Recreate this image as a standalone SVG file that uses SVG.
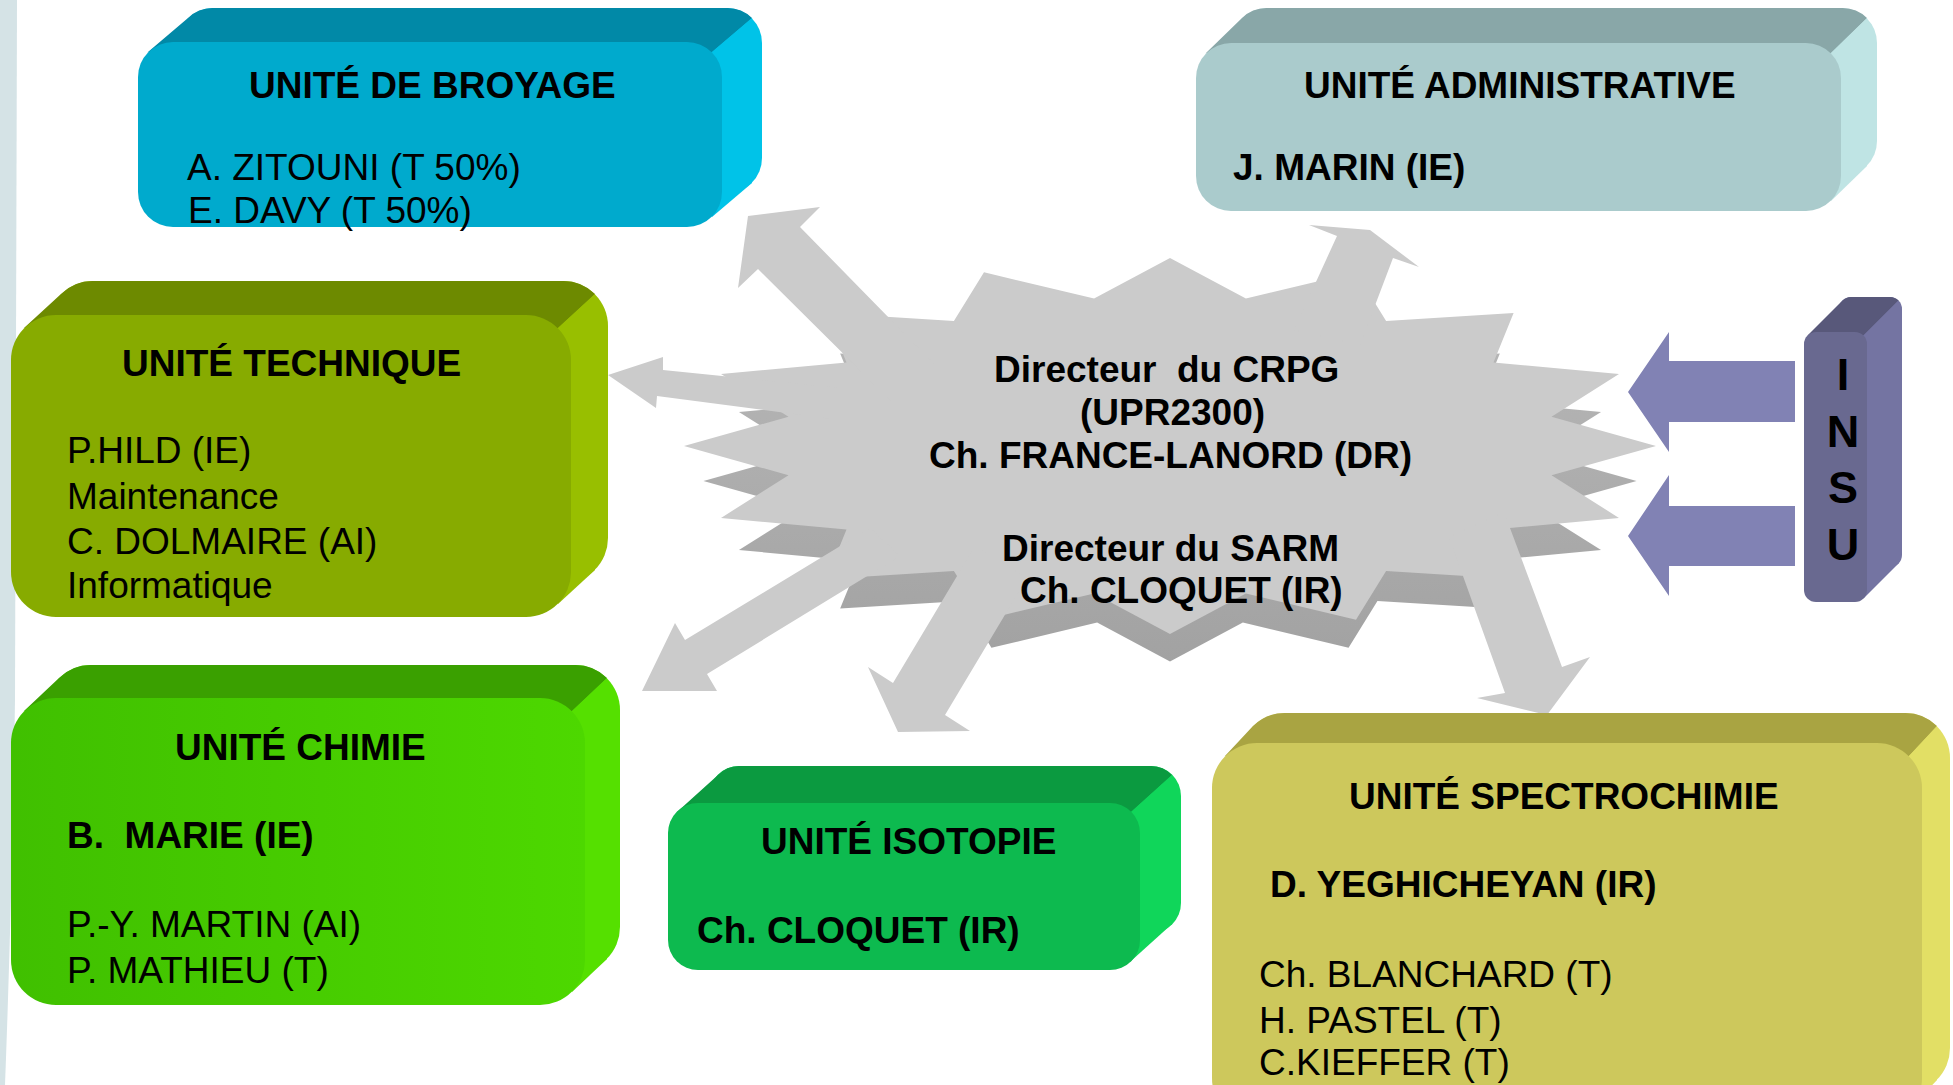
<svg xmlns="http://www.w3.org/2000/svg" xmlns:xlink="http://www.w3.org/1999/xlink" width="1953" height="1085" viewBox="0 0 1953 1085">
<style>
text{font-family:"Liberation Sans",Arial,sans-serif;fill:#000;white-space:pre}
.t{font-size:37px;font-weight:bold}
.p{font-size:37px}
.b{font-size:37px;font-weight:bold}
.s{font-size:37px;font-weight:bold}
.insu{font-size:45px;font-weight:bold;text-anchor:middle}
.garrow{fill:#cbcbcb}
.parrow{fill:#8182b4}
</style>
<defs>
<polygon id="star" points="1170,258 1245.9,298.5 1356,272.3 1386.1,320.9 1513.6,313.1 1493.5,362.4 1619,374.1 1551.5,416.7 1656,446 1551.5,475.3 1619,517.9 1493.5,529.6 1513.6,578.9 1386.1,571.1 1356,619.7 1245.9,593.5 1170,634 1094.1,593.5 984,619.7 953.9,571.1 826.4,578.9 846.5,529.6 721,517.9 788.5,475.3 684,446 788.5,416.7 721,374.1 846.5,362.4 826.4,313.1 953.9,320.9 984,272.3 1094.1,298.5"/>
<linearGradient id="gChimie" x1="0" y1="0" x2="1" y2="0"><stop offset="0" stop-color="#40c000"/><stop offset="1" stop-color="#4dd800"/></linearGradient>
<linearGradient id="gExt" x1="0" y1="0" x2="0" y2="1"><stop offset="0" stop-color="#b8b8b8"/><stop offset="1" stop-color="#a2a2a2"/></linearGradient>
</defs>
<rect width="1953" height="1085" fill="#ffffff"/>
<path d="M0,0 L17,0 L15,700 Q12,900 5,1085 L0,1085 Z" fill="#d5e3e6"/>

<g id="director">
<use xlink:href="#star" fill="url(#gExt)" transform="translate(1170,481) scale(0.96) translate(-1170,-446)"/>
<use xlink:href="#star" fill="#cbcbcb"/>
</g>

<g id="connectors">
<polygon class="garrow" points="748,216 820,207 800,227 940,370 900,410 758,269 738,288"/>
<polygon class="garrow" points="608,375 663,357 663,370 840,388 840,420 657,396 656,408"/>
<polygon class="garrow" points="642,691 675,623 685,640 870,528 900,556 707,674 717,691"/>
<polygon class="garrow" points="898,732 868,667 893,683 975,546 1027,578 945,715 970,731"/>
<polygon class="garrow" points="1547,715 1477,698 1505,693 1449,537 1504,512 1562,667 1590,657"/>
<polygon class="garrow" points="1309,225 1370,230 1419,267 1393,258 1360,345 1294,330 1337,236"/>
<polygon class="parrow" points="1628,392 1669,332 1669,361 1795,361 1795,422 1669,422 1669,452"/>
<polygon class="parrow" points="1628,536 1669,475 1669,506 1795,506 1795,566 1669,566 1669,596"/>
</g>

<g id="director-text">
<text class="s" x="994" y="382">Directeur  du CRPG</text>
<text class="s" x="1080" y="425">(UPR2300)</text>
<text class="s" x="929" y="468">Ch. FRANCE-LANORD (DR)</text>
<text class="s" x="1002" y="561">Directeur du SARM</text>
<text class="s" x="1020" y="603">Ch. CLOQUET (IR)</text>
</g>

<g id="broyage">
<rect x="178" y="8" width="584" height="185" rx="35" fill="#00c3e8"/>
<path d="M148,52 L188,18 A35,35 0 0 1 213,8 L727,8 A35,35 0 0 1 752,18 L712,52 Z" fill="#0189a7"/>
<polygon points="712,52 752,18 752,183 712,217" fill="#00c3e8"/>
<rect x="138" y="42" width="584" height="185" rx="35" fill="#00aacd"/>
<text class="t" x="249" y="98">UNITÉ DE BROYAGE</text>
<text class="p" x="187" y="180">A. ZITOUNI (T 50%)</text>
<text class="p" x="188" y="223">E. DAVY (T 50%)</text>
</g>

<g id="administrative">
<rect x="1232" y="8" width="645" height="168" rx="35" fill="#bfe4e4"/>
<path d="M1206,53 L1242,18 A35,35 0 0 1 1267,8 L1842,8 A35,35 0 0 1 1867,18 L1831,53 Z" fill="#89a7a8"/>
<polygon points="1831,53 1867,18 1867,166 1831,201" fill="#bfe4e4"/>
<rect x="1196" y="43" width="645" height="168" rx="35" fill="#aacbcc"/>
<text class="t" x="1304" y="98">UNITÉ ADMINISTRATIVE</text>
<text class="b" x="1233" y="180">J. MARIN (IE)</text>
</g>

<g id="technique">
<rect x="48" y="281" width="560" height="302" rx="45" fill="#98bf00"/>
<path d="M24,328 L61,294 A45,45 0 0 1 93,281 L563,281 A45,45 0 0 1 595,294 L558,328 Z" fill="#6d8a00"/>
<polygon points="558,328 595,294 595,570 558,604" fill="#98bf00"/>
<rect x="11" y="315" width="560" height="302" rx="45" fill="#87ab00"/>
<text class="t" x="122" y="376">UNITÉ TECHNIQUE</text>
<text class="p" x="67" y="463">P.HILD (IE)</text>
<text class="p" x="67" y="509">Maintenance</text>
<text class="p" x="67" y="554">C. DOLMAIRE (AI)</text>
<text class="p" x="67" y="598">Informatique</text>
</g>

<g id="chimie">
<rect x="46" y="665" width="574" height="307" rx="45" fill="#55e000"/>
<path d="M24,711 L59,678 A45,45 0 0 1 91,665 L575,665 A45,45 0 0 1 607,678 L572,711 Z" fill="#3aa000"/>
<polygon points="572,711 607,678 607,959 572,992" fill="#55e000"/>
<rect x="11" y="698" width="574" height="307" rx="45" fill="url(#gChimie)"/>
<text class="t" x="175" y="760">UNITÉ CHIMIE</text>
<text class="b" x="67" y="848">B.  MARIE (IE)</text>
<text class="p" x="67" y="937">P.-Y. MARTIN (AI)</text>
<text class="p" x="67" y="983">P. MATHIEU (T)</text>
</g>

<g id="isotopie">
<rect x="709" y="766" width="472" height="167" rx="30" fill="#10d65a"/>
<path d="M677,812 L718,775 A30,30 0 0 1 739,766 L1151,766 A30,30 0 0 1 1172,775 L1131,812 Z" fill="#0b9a40"/>
<polygon points="1131,812 1172,775 1172,924 1131,961" fill="#10d65a"/>
<rect x="668" y="803" width="472" height="167" rx="30" fill="#0dba4f"/>
<text class="t" x="761" y="854">UNITÉ ISOTOPIE</text>
<text class="b" x="697" y="943">Ch. CLOQUET (IR)</text>
</g>

<g id="spectrochimie">
<rect x="1240" y="713" width="710" height="380" rx="45" fill="#e2df65"/>
<path d="M1225,756 L1253,726 A45,45 0 0 1 1285,713 L1905,713 A45,45 0 0 1 1937,726 L1909,756 Z" fill="#a9a442"/>
<polygon points="1909,756 1937,726 1937,1080 1909,1110" fill="#e2df65"/>
<rect x="1212" y="743" width="710" height="380" rx="45" fill="#cdc85c"/>
<text class="t" x="1349" y="809">UNITÉ SPECTROCHIMIE</text>
<text class="b" x="1270" y="897">D. YEGHICHEYAN (IR)</text>
<text class="p" x="1259" y="987">Ch. BLANCHARD (T)</text>
<text class="p" x="1259" y="1033">H. PASTEL (T)</text>
<text class="p" x="1259" y="1075">C.KIEFFER (T)</text>
</g>

<g id="insu">
<rect x="1839" y="297" width="63" height="270" rx="12" fill="#7474a2"/>
<path d="M1807.5,335.5 L1842.5,300.5 A12,12 0 0 1 1851,297 L1890,297 A12,12 0 0 1 1898.5,300.5 L1863.5,335.5 Z" fill="#58587a"/>
<polygon points="1863.5,335.5 1898.5,300.5 1898.5,563.5 1863.5,598.5" fill="#7474a2"/>
<rect x="1804" y="332" width="63" height="270" rx="12" fill="#696990"/>
<text class="insu" x="1843" y="390">I</text>
<text class="insu" x="1843" y="447">N</text>
<text class="insu" x="1843" y="503">S</text>
<text class="insu" x="1843" y="560">U</text>
</g>
</svg>
